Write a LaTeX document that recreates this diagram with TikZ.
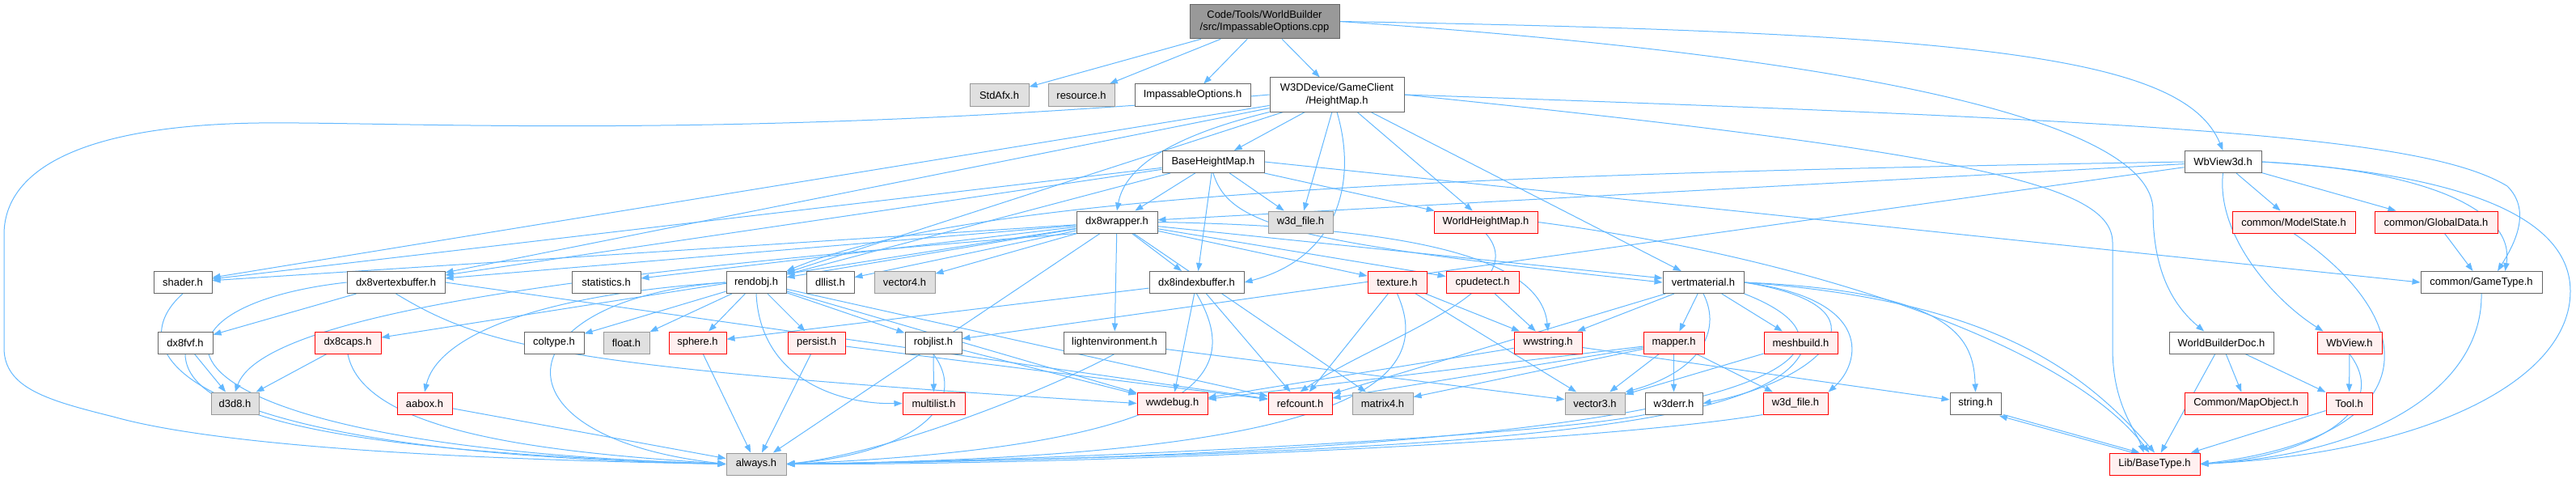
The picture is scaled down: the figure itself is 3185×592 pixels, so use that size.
\documentclass[tikz,border=0pt]{standalone}
\usepackage{fontspec}
\setmainfont{Liberation Sans}
\usetikzlibrary{arrows.meta,backgrounds}

\definecolor{edgeblue}{RGB}{99,184,255}
\definecolor{boxgrey}{RGB}{102,102,102}
\definecolor{sysgrey}{RGB}{153,153,153}
\definecolor{sysfill}{RGB}{224,224,224}
\definecolor{cutred}{RGB}{255,0,0}
\definecolor{cutfill}{RGB}{255,240,240}
\definecolor{rootfill}{RGB}{153,153,153}

\begin{document}
\begin{tikzpicture}[
  x=0.75pt, y=-0.75pt,
  font=\fontsize{9.7}{11.5}\selectfont,
  filebox/.style={rectangle, line width=0.75pt, inner sep=1.5pt, minimum height=20.25pt, align=center},
  wd/.style={minimum width=#1*0.75pt},
  hdr/.style={filebox, draw=boxgrey, fill=white},
  syshdr/.style={filebox, draw=sysgrey, fill=sysfill},
  cuthdr/.style={filebox, draw=cutred, fill=cutfill},
  rootbox/.style={filebox, draw=boxgrey, fill=rootfill, minimum height=32pt},
  dep/.style={-{Triangle[length=7.5pt,width=5.5pt]}, draw=edgeblue, line width=0.75pt}
]
  \useasboundingbox (0,0) rectangle (3185,592);

  % Row 0: the source file
  \node[rootbox, wd=185] (root) at (1563.5,26.5) {Code/Tools/WorldBuilder\\/src/ImpassableOptions.cpp};

  % Row 1
  \node[syshdr, wd=73] (stdafx) at (1235.5,117.5) {StdAfx.h};
  \node[syshdr, wd=82] (resource) at (1337,117.5) {resource.h};
  \node[hdr, wd=143] (impopt) at (1474.5,117.5) {ImpassableOptions.h};
  \node[hdr, wd=166, minimum height=31.5pt] (heightmap) at (1653,117) {W3DDevice/GameClient\\/HeightMap.h};

  % Row 2
  \node[hdr, wd=126] (basehm) at (1500,200) {BaseHeightMap.h};
  \node[hdr, wd=95] (wbview3d) at (2748.5,200) {WbView3d.h};

  % Row 3
  \node[hdr, wd=100] (dx8wrap) at (1381,274.5) {dx8wrapper.h};
  \node[syshdr, wd=80] (w3dfileg) at (1608,274.5) {w3d\_file.h};
  \node[cuthdr, wd=128] (worldhm) at (1837,274.5) {WorldHeightMap.h};
  \node[cuthdr, wd=152] (modelstate) at (2836,274.5) {common/ModelState.h};
  \node[cuthdr, wd=152] (globaldata) at (3012,274.5) {common/GlobalData.h};

  % Row 4
  \node[hdr, wd=72] (shader) at (226,349) {shader.h};
  \node[hdr, wd=121] (dx8vb) at (489.5,349) {dx8vertexbuffer.h};
  \node[hdr, wd=85] (stats) at (749.5,349) {statistics.h};
  \node[hdr, wd=74] (rendobj) at (935,349) {rendobj.h};
  \node[hdr, wd=59] (dllist) at (1026.5,349) {dllist.h};
  \node[syshdr, wd=75] (vector4) at (1118.5,349) {vector4.h};
  \node[hdr, wd=117] (dx8ib) at (1479.5,349) {dx8indexbuffer.h};
  \node[cuthdr, wd=73] (texture) at (1727.5,349) {texture.h};
  \node[cuthdr, wd=90] (cpudetect) at (1833,349) {cpudetect.h};
  \node[hdr, wd=100] (vertmat) at (2106,349) {vertmaterial.h};
  \node[hdr, wd=150] (gametype) at (3068,349) {common/GameType.h};

  % Row 5
  \node[hdr, wd=68] (dx8fvf) at (229,423.5) {dx8fvf.h};
  \node[cuthdr, wd=82] (dx8caps) at (430,423.5) {dx8caps.h};
  \node[hdr, wd=74] (coltype) at (685,423.5) {coltype.h};
  \node[syshdr, wd=57] (floath) at (774.5,423.5) {float.h};
  \node[cuthdr, wd=71] (sphere) at (862.5,423.5) {sphere.h};
  \node[cuthdr, wd=71] (persist) at (1009.5,423.5) {persist.h};
  \node[hdr, wd=70] (robjlist) at (1154,423.5) {robjlist.h};
  \node[hdr, wd=126] (lightenv) at (1378,423.5) {lightenvironment.h};
  \node[cuthdr, wd=84] (wwstring) at (1914,423.5) {wwstring.h};
  \node[cuthdr, wd=75] (mapper) at (2069.5,423.5) {mapper.h};
  \node[cuthdr, wd=91] (meshbuild) at (2226.5,423.5) {meshbuild.h};
  \node[hdr, wd=129] (wbdoc) at (2746.5,423.5) {WorldBuilderDoc.h};
  \node[cuthdr, wd=80] (wbview) at (2905,423.5) {WbView.h};

  % Row 6
  \node[syshdr, wd=59] (d3d8) at (290.5,498.5) {d3d8.h};
  \node[cuthdr, wd=68] (aabox) at (525,498.5) {aabox.h};
  \node[cuthdr, wd=77] (multilist) at (1154.5,498.5) {multilist.h};
  \node[cuthdr, wd=87] (wwdebug) at (1449.5,498.5) {wwdebug.h};
  \node[cuthdr, wd=79] (refcount) at (1607.5,498.5) {refcount.h};
  \node[syshdr, wd=75] (matrix4) at (1709.5,498.5) {matrix4.h};
  \node[syshdr, wd=74] (vector3) at (1972,498.5) {vector3.h};
  \node[hdr, wd=71] (w3derr) at (2069.5,498.5) {w3derr.h};
  \node[cuthdr, wd=80] (w3dfiler) at (2220,498.5) {w3d\_file.h};
  \node[hdr, wd=63] (stringh) at (2442.5,498.5) {string.h};
  \node[cuthdr, wd=152] (mapobj) at (2777,498.5) {Common/MapObject.h};
  \node[cuthdr, wd=57] (tool) at (2904.5,498.5) {Tool.h};

  % Row 7
  \node[syshdr, wd=74] (always) at (935,573.5) {always.h};
  \node[cuthdr, wd=112] (basetype) at (2664,573.5) {Lib/BaseType.h};

  \begin{scope}[on background layer]
  % source file
  \draw[dep] (root) -- (stdafx);
  \draw[dep] (root) -- (resource);
  \draw[dep] (root) -- (impopt);
  \draw[dep] (root) -- (heightmap);
  \draw[dep] (root.east) .. controls (2450,40) and (2700,70) .. (wbview3d.north);
  \draw[dep] (root.east) .. controls (2300,70) and (2662,150) .. (2662,260) .. controls (2662,340) and (2690,380) .. ([xshift=-16pt]wbdoc.north);

  % HeightMap.h
  \draw[dep] (heightmap.west) .. controls (900,175) and (500,150) .. (320,152) .. controls (100,155) and (5,210) .. (5,290) -- (5,430) .. controls (5,480) and (60,495) .. (140,515) .. controls (300,560) and (700,570) .. (always.west);
  \draw[dep] (heightmap) -- (basehm);
  \draw[dep] (heightmap.south west) .. controls (1440,170) and (1390,210) .. (dx8wrap.north);
  \draw[dep] (heightmap) -- (w3dfileg);
  \draw[dep] (heightmap) -- (worldhm);
  \draw[dep] (heightmap) -- (vertmat);
  \draw[dep] (heightmap.south) .. controls (1680,230) and (1650,320) .. (dx8ib.east);
  \draw[dep] (heightmap) -- (shader);
  \draw[dep] (heightmap) -- (dx8vb);
  \draw[dep] (heightmap) -- (rendobj);
  \draw[dep] (heightmap.east) .. controls (2700,150) and (3000,170) .. (3100,230) .. controls (3130,260) and (3110,300) .. ([xshift=15pt]gametype.north);
  \draw[dep] (heightmap.east) .. controls (2450,190) and (2612,230) .. (2612,300) -- (2612,430) .. controls (2612,500) and (2640,530) .. ([xshift=-10pt]basetype.north);

  % BaseHeightMap.h
  \draw[dep] (basehm) -- (dx8wrap);
  \draw[dep] (basehm) -- (w3dfileg);
  \draw[dep] (basehm) -- (dx8ib);
  \draw[dep] (basehm) -- (worldhm);
  \draw[dep] (basehm.south) .. controls (1520,280) and (1600,300) .. (vertmat.west);
  \draw[dep] (basehm) -- (shader);
  \draw[dep] (basehm) -- (dx8vb);
  \draw[dep] (basehm) -- (rendobj);
  \draw[dep] (basehm.east) -- (gametype.west);

  % WbView3d.h
  \draw[dep] (wbview3d) -- (dx8wrap);
  \draw[dep] (wbview3d.west) .. controls (1800,215) and (1200,240) .. (rendobj.north east);
  \draw[dep] (wbview3d) -- (robjlist);
  \draw[dep] (wbview3d) -- (modelstate);
  \draw[dep] (wbview3d) -- (globaldata);
  \draw[dep] (wbview3d.south) .. controls (2740,290) and (2810,370) .. ([xshift=6pt]wbview.north west);
  \draw[dep] (wbview3d.east) .. controls (3000,210) and (3110,260) .. ([xshift=22pt]gametype.north);
  \draw[dep] (wbview3d.east) .. controls (3050,215) and (3178,270) .. (3178,360) .. controls (3178,470) and (3000,560) .. (basetype.east);

  % dx8wrapper.h
  \draw[dep] (dx8wrap) -- (shader);
  \draw[dep] (dx8wrap) -- (dx8vb);
  \draw[dep] (dx8wrap) -- (stats);
  \draw[dep] (dx8wrap) -- (rendobj);
  \draw[dep] (dx8wrap) -- (dllist);
  \draw[dep] (dx8wrap) -- (vector4);
  \draw[dep] (dx8wrap) -- (dx8ib);
  \draw[dep] (dx8wrap) -- (lightenv);
  \draw[dep] (dx8wrap) -- (always);
  \draw[dep] (dx8wrap.south west) .. controls (800,330) and (330,380) .. (d3d8.north);
  \draw[dep] (dx8wrap) -- (dx8caps);
  \draw[dep] (dx8wrap) -- (texture);
  \draw[dep] (dx8wrap) -- (cpudetect);
  \draw[dep] (dx8wrap) -- (vertmat);
  \draw[dep] (dx8wrap.east) .. controls (1750,280) and (1905,320) .. (wwstring.north);
  \draw[dep] (dx8wrap) -- (matrix4);

  % rendobj.h
  \draw[dep] (rendobj) -- (coltype);
  \draw[dep] (rendobj) -- (floath);
  \draw[dep] (rendobj) -- (sphere);
  \draw[dep] (rendobj) -- (persist);
  \draw[dep] (rendobj) -- (robjlist);
  \draw[dep] (rendobj.south) .. controls (940,470) and (1040,500) .. (multilist.west);
  \draw[dep] (rendobj) -- (wwdebug);
  \draw[dep] (rendobj) -- (refcount);
  \draw[dep] (rendobj.west) .. controls (650,365) and (540,420) .. (aabox.north);
  \draw[dep] (rendobj.west) .. controls (620,370) and (600,540) .. (always.west);

  % left column headers
  \draw[dep] (shader.south) .. controls (150,430) and (200,560) .. (always.west);
  \draw[dep] (dx8vb.west) .. controls (150,380) and (150,550) .. (always.west);
  \draw[dep] (dx8vb) -- (dx8fvf);
  \draw[dep] (dx8vb.east) -- (refcount);
  \draw[dep] (dx8vb.south) .. controls (600,430) and (700,455) .. (wwdebug.west);
  \draw[dep] (dx8fvf) -- (d3d8);
  \draw[dep] (dx8fvf.south) .. controls (230,530) and (500,560) .. (always.west);
  \draw[dep] (dx8caps) -- (d3d8);
  \draw[dep] (dx8caps.south) .. controls (450,540) and (700,560) .. (always.west);
  \draw[dep] (aabox) -- (always);
  \draw[dep] (sphere) -- (always);
  \draw[dep] (persist) -- (always);
  \draw[dep] (persist) -- (refcount);
  \draw[dep] (robjlist) -- (multilist);
  \draw[dep] (robjlist.south) .. controls (1200,500) and (1130,560) .. (always.east);
  \draw[dep] (robjlist) -- (wwdebug);
  \draw[dep] (lightenv.south) .. controls (1300,480) and (1100,560) .. (always.east);
  \draw[dep] (lightenv) -- (vector3);

  % dx8indexbuffer.h, texture.h, cpudetect.h
  \draw[dep] (dx8ib) -- (sphere);
  \draw[dep] (dx8ib) -- (wwdebug);
  \draw[dep] (dx8ib) -- (refcount);
  \draw[dep] (dx8ib.south) .. controls (1530,450) and (1520,550) .. (always.east);
  \draw[dep] (texture) -- (refcount);
  \draw[dep] (texture) -- (wwstring);
  \draw[dep] (texture) -- (vector3);
  \draw[dep] (texture.south) .. controls (1780,480) and (1650,565) .. (always.east);
  \draw[dep] (cpudetect) -- (wwstring);

  % vertmaterial.h
  \draw[dep] (vertmat) -- (wwstring);
  \draw[dep] (vertmat) -- (mapper);
  \draw[dep] (vertmat) -- (meshbuild);
  \draw[dep] (vertmat) -- (refcount);
  \draw[dep] (vertmat.south) .. controls (2130,410) and (2100,460) .. (vector3.north east);
  \draw[dep] (vertmat.east) .. controls (2350,380) and (2250,470) .. (w3derr.east);
  \draw[dep] (vertmat.east) .. controls (2320,370) and (2300,450) .. (w3dfiler.north east);
  \draw[dep] (vertmat.east) .. controls (2420,360) and (2440,420) .. (stringh.north);
  \draw[dep] (vertmat.east) .. controls (2450,370) and (2570,450) .. (basetype.north);
  \draw[dep] (vertmat.south east) .. controls (2330,430) and (2250,560) .. (always.east);

  % mapper.h, meshbuild.h, wwstring.h
  \draw[dep] (mapper) -- (refcount);
  \draw[dep] (mapper) -- (matrix4);
  \draw[dep] (mapper) -- (vector3);
  \draw[dep] (mapper) -- (w3derr);
  \draw[dep] (mapper) -- (w3dfiler);
  \draw[dep] (mapper) -- (wwdebug);
  \draw[dep] (meshbuild) -- (vector3);
  \draw[dep] (meshbuild.south) .. controls (2180,520) and (1900,560) .. (always.east);
  \draw[dep] (wwstring) -- (wwdebug);
  \draw[dep] (wwstring) -- (stringh);
  \draw[dep] (w3derr.south west) .. controls (1900,540) and (1300,570) .. (always.east);
  \draw[dep] (w3dfiler.south west) .. controls (1950,550) and (1300,575) .. (always.east);

  % WorldHeightMap.h
  \draw[dep] (worldhm.south) .. controls (1900,360) and (1700,420) .. (refcount.north);
  \draw[dep] (worldhm.east) .. controls (2250,320) and (2560,430) .. ([xshift=-5pt]basetype.north);

  % right hand side
  \draw[dep] ([xshift=2pt]stringh.south east) -- ([xshift=-14pt]basetype.north);
  \draw[dep] ([xshift=-20pt]basetype.north) -- ([xshift=-2pt,yshift=-1pt]stringh.south east);
  \draw[dep] (gametype.south) .. controls (3070,470) and (2950,560) .. (basetype.east);
  \draw[dep] (modelstate.south) .. controls (3000,400) and (3000,540) .. (basetype.east);
  \draw[dep] (globaldata) -- (gametype);
  \draw[dep] (wbdoc) -- (basetype);
  \draw[dep] (wbdoc) -- (mapobj);
  \draw[dep] (wbdoc) -- (tool);
  \draw[dep] (wbview) -- (tool);
  \draw[dep] (wbview.south) .. controls (2960,510) and (2850,565) .. (basetype.east);
  \draw[dep] (tool) -- (basetype);
  \end{scope}
\end{tikzpicture}
\end{document}
